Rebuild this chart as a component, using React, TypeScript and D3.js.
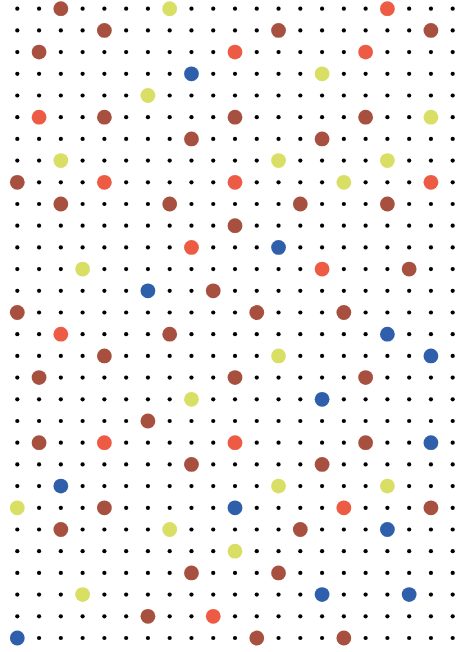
import React, { useEffect, useRef } from "react";
import * as d3 from "d3";

// grid size
const columns = d3.range(21);
const rows = d3.range(30);

// highlighted cells as [column, row]
const brownCells = [
  [2, 0], [4, 1], [12, 1], [19, 1], [1, 2], [4, 5], [10, 5], [16, 5], [8, 6], [14, 6],
  [0, 8], [2, 9], [7, 9], [13, 9], [17, 9], [10, 10], [18, 12], [9, 13], [0, 14], [11, 14],
  [15, 14], [7, 15], [4, 16], [1, 17], [10, 17], [16, 17], [6, 19], [1, 20], [16, 20], [8, 21],
  [14, 21], [4, 23], [19, 23], [2, 24], [13, 24], [8, 26], [12, 26], [6, 28], [11, 29], [15, 29],
];
const orangeCells = [
  [17, 0], [10, 2], [16, 2], [1, 5], [4, 8], [10, 8], [19, 8], [8, 11], [14, 12], [2, 15],
  [4, 20], [10, 20], [15, 23], [9, 28],
];
const yellowCells = [
  [7, 0], [14, 3], [6, 4], [19, 5], [2, 7], [12, 7], [17, 7], [15, 8], [3, 12], [12, 16],
  [8, 18], [12, 22], [17, 22], [0, 23], [7, 24], [10, 25], [3, 27],
];
const blueCells = [
  [8, 3], [12, 11], [6, 13], [17, 15], [19, 16], [14, 18], [19, 20], [2, 22], [10, 23],
  [17, 24], [14, 27], [18, 27], [0, 29],
];

const App: React.FC = () => {
  const ref = useRef<SVGSVGElement>(null);

  useEffect(() => {
    const width = 463;
    const height = 652;
    const svg = d3.select(ref.current).attr("width", width).attr("height", height);
    svg.selectAll("*").remove();

    const x = d3.scalePoint<number>().domain(columns).range([17.3, 452.7]);
    const y = d3.scalePoint<number>().domain(rows).range([8.7, 638]);

    // background dots
    const grid = rows.flatMap((r) => columns.map((c) => [c, r]));
    svg
      .append("g")
      .selectAll("circle")
      .data(grid)
      .join("circle")
      .attr("cx", (d) => x(d[0]) as number)
      .attr("cy", (d) => y(d[1]) as number)
      .attr("r", 2.1)
      .attr("fill", "#000");

    const groups = [
      { cells: brownCells, color: "#a85040" },
      { cells: orangeCells, color: "#ee5b45" },
      { cells: yellowCells, color: "#d9df65" },
      { cells: blueCells, color: "#2f5fab" },
    ];

    groups.forEach((g) => {
      svg
        .append("g")
        .selectAll("circle")
        .data(g.cells)
        .join("circle")
        .attr("cx", (d) => x(d[0]) as number)
        .attr("cy", (d) => y(d[1]) as number)
        .attr("r", 7.4)
        .attr("fill", g.color);
    });
  }, []);

  return <svg ref={ref} style={{ position: "absolute", left: 0, top: 0 }} />;
};

export default App;
